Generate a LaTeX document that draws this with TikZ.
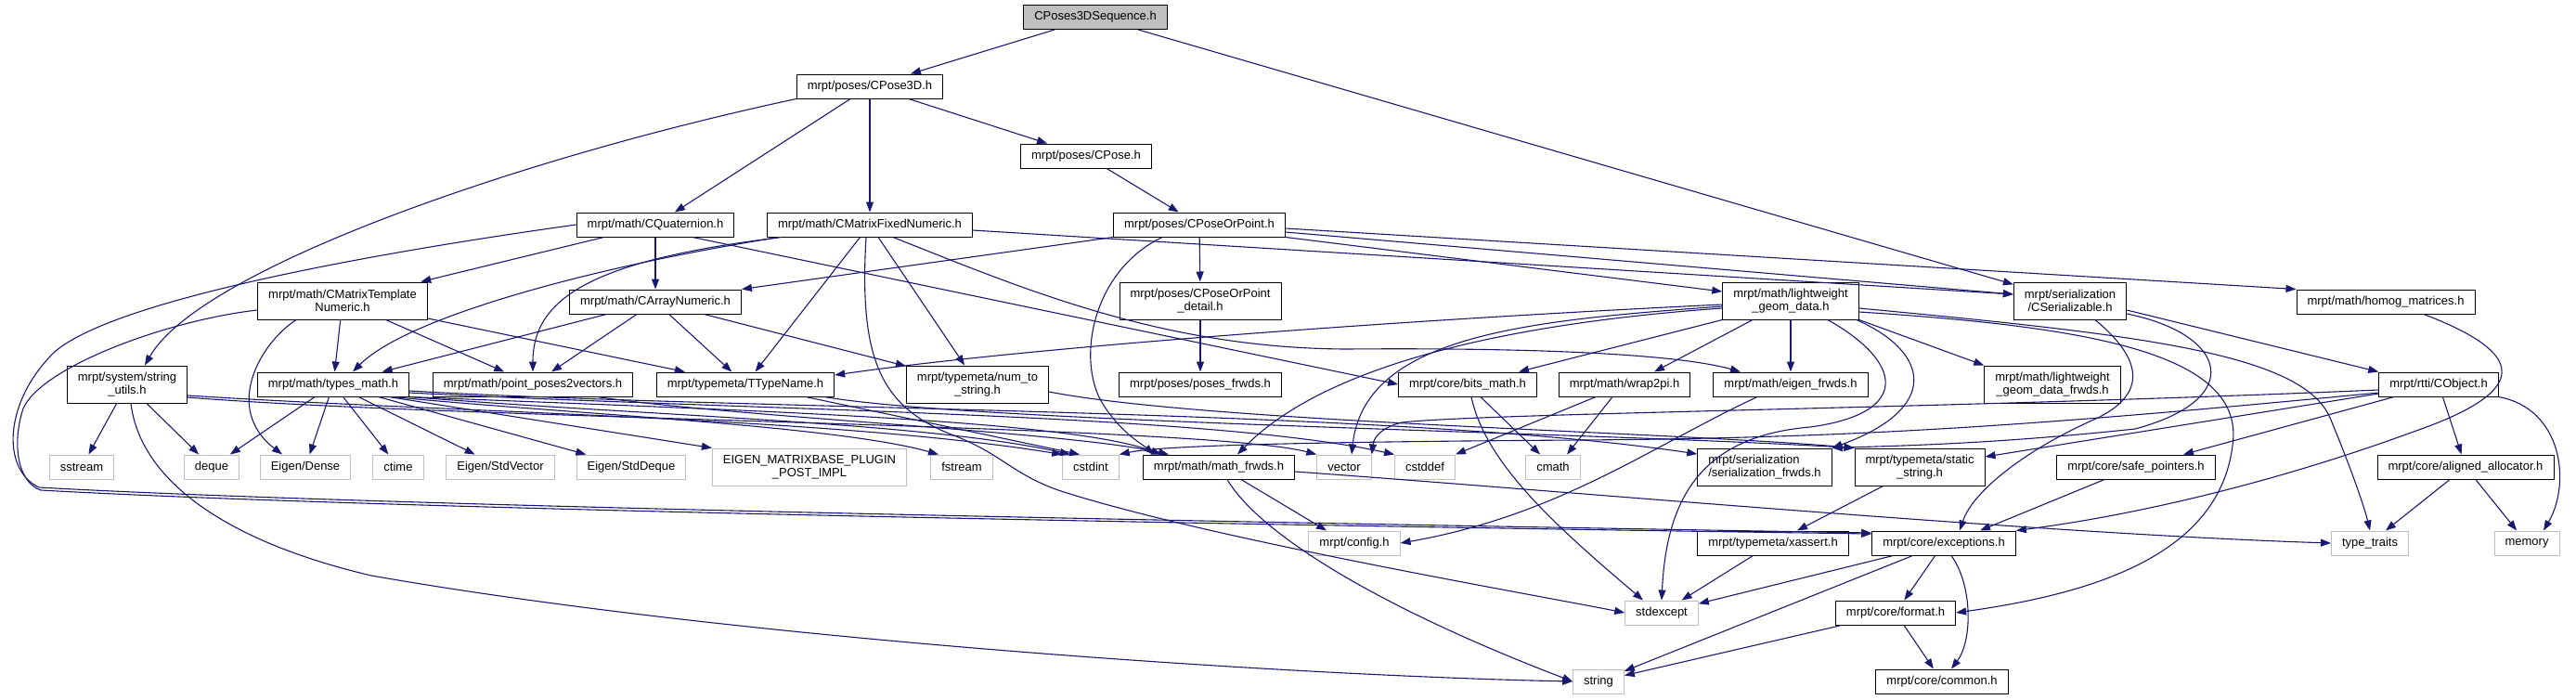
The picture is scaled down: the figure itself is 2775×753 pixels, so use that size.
\documentclass[tikz,border=0pt]{standalone}
\usepackage{fontspec}
\setmainfont{Liberation Sans}
\usetikzlibrary{arrows.meta}
\definecolor{dxblue}{HTML}{191970}
\definecolor{dxgray}{HTML}{BFBFBF}
\newcommand{\hf}{\fontsize{13}{14}\selectfont}

\begin{document}
\begin{tikzpicture}[x=1pt,y=-1pt,
    hdr/.style={draw=black,line width=1pt,fill=white,font=\hf,align=center,
      inner xsep=11.5pt,inner ysep=2pt,minimum height=26pt},
    sys/.style={hdr,draw=dxgray},
    root/.style={hdr,fill=dxgray},
    twol/.style={minimum height=40pt},
    inc/.style={draw=dxblue,line width=1.1pt,-{Triangle[length=11pt,width=8pt]}},
    every edge/.style={inc}]
    \useasboundingbox (0,0) rectangle (2775,753);
    \node[root] (P3S) at (1180,18.5) {CPoses3DSequence.h};
    \node[hdr] (CP3) at (937,93) {mrpt/poses/CPose3D.h};
    \node[hdr] (CPO) at (1170,168) {mrpt/poses/CPose.h};
    \node[hdr] (CQU) at (706,242) {mrpt/math/CQuaternion.h};
    \node[hdr] (CMF) at (937,242) {mrpt/math/CMatrixFixedNumeric.h};
    \node[hdr] (CPP) at (1292,242) {mrpt/poses/CPoseOrPoint.h};
    \node[hdr,twol] (CMT) at (369,324) {mrpt/math/CMatrixTemplate\\Numeric.h};
    \node[hdr] (CAN) at (706,325) {mrpt/math/CArrayNumeric.h};
    \node[hdr,twol] (CPD) at (1293,324) {mrpt/poses/CPoseOrPoint\\\_detail.h};
    \node[hdr,twol] (LGD) at (1929,324) {mrpt/math/lightweight\\\_geom\_data.h};
    \node[hdr,twol] (CSE) at (2230,324) {mrpt/serialization\\/CSerializable.h};
    \node[hdr] (HOM) at (2570,325) {mrpt/math/homog\_matrices.h};
    \node[hdr,twol] (STU) at (137,414) {mrpt/system/string\\\_utils.h};
    \node[hdr] (TYM) at (359,414) {mrpt/math/types\_math.h};
    \node[hdr] (PPV) at (574,414) {mrpt/math/point\_poses2vectors.h};
    \node[hdr] (TTN) at (803,414) {mrpt/typemeta/TTypeName.h};
    \node[hdr,twol] (NTS) at (1053,414) {mrpt/typemeta/num\_to\\\_string.h};
    \node[hdr] (PFR) at (1293,414) {mrpt/poses/poses\_frwds.h};
    \node[hdr] (BIT) at (1581,414) {mrpt/core/bits\_math.h};
    \node[hdr] (W2P) at (1750,414) {mrpt/math/wrap2pi.h};
    \node[hdr] (EFR) at (1929,414) {mrpt/math/eigen\_frwds.h};
    \node[hdr,twol] (LGF) at (2211,414) {mrpt/math/lightweight\\\_geom\_data\_frwds.h};
    \node[hdr] (COB) at (2627,414) {mrpt/rtti/CObject.h};
    \node[sys] (SST) at (88,503) {sstream};
    \node[sys] (DEQ) at (228,503) {deque};
    \node[sys] (EDN) at (329,503) {Eigen/Dense};
    \node[sys] (CTI) at (429,503) {ctime};
    \node[sys] (ESV) at (539,503) {Eigen/StdVector};
    \node[sys] (ESD) at (680,503) {Eigen/StdDeque};
    \node[sys,twol] (EMP) at (872,503) {EIGEN\_MATRIXBASE\_PLUGIN\\\_POST\_IMPL};
    \node[sys] (FST) at (1036,503) {fstream};
    \node[sys] (CSI) at (1175,503) {cstdint};
    \node[hdr] (MFR) at (1313,503) {mrpt/math/math\_frwds.h};
    \node[sys] (VEC) at (1448,503) {vector};
    \node[sys] (CSD) at (1535,503) {cstddef};
    \node[sys] (CMA) at (1673,503) {cmath};
    \node[hdr,twol,align=left] (SFR) at (1901,503) {mrpt/serialization\\/serialization\_frwds.h};
    \node[hdr,twol] (STS) at (2068,503) {mrpt/typemeta/static\\\_string.h};
    \node[hdr] (SAF) at (2301,503) {mrpt/core/safe\_pointers.h};
    \node[hdr] (ALA) at (2656,503) {mrpt/core/aligned\_allocator.h};
    \node[sys] (CFG) at (1459,585) {mrpt/config.h};
    \node[hdr] (XAS) at (1910,585) {mrpt/typemeta/xassert.h};
    \node[hdr] (EXC) at (2094,585) {mrpt/core/exceptions.h};
    \node[sys] (TYT) at (2553,585) {type\_traits};
    \node[sys] (MEM) at (2722,585) {memory};
    \node[sys] (STE) at (1790,660) {stdexcept};
    \node[hdr] (FMT) at (2042,660) {mrpt/core/format.h};
    \node[sys] (STR) at (1722,734) {string};
    \node[hdr] (COM) at (2092,734) {mrpt/core/common.h};
    % top rows
    \path (P3S) edge (CP3);
    \path (P3S) edge (CSE);
    \path (CP3) edge (CQU);
    \path (CP3) edge (CMF);
    \path (CP3) edge (CPO);
    \draw[inc] (CP3.south west) .. controls (560,170) and (215,290) .. ([xshift=19pt]STU.north);
    \path (CPO) edge (CPP);
    \path (CQU) edge (CAN);
    \path (CQU) edge (CMT);
    \path ([xshift=40pt]CQU.south) edge (BIT.west);
    \draw[inc] (CQU.west) .. controls (420,270) and (130,320) .. (60,378) .. controls (5,430) and (0,505) .. (42,525) .. controls (400,545) and (1300,562) .. ([yshift=11pt]EXC.west);
    \draw[inc] ([yshift=-10pt]CMT.west) .. controls (180,345) and (45,395) .. (25,440) .. controls (12,480) and (20,520) .. (44,528) .. controls (400,548) and (1300,565) .. ([yshift=10pt]EXC.west);
    \path (CMT) edge (TYM);
    \path (CMT) edge (PPV);
    \path (CMT) edge (TTN);
    \draw[inc] ([xshift=-50pt]CMT.south) .. controls (280,370) and (240,440) .. ([xshift=-25pt]EDN.north);
    \path (CAN) edge (TYM);
    \path (CAN) edge (PPV);
    \path (CAN) edge (TTN);
    \path (CAN) edge (NTS);
    \draw[inc] ([xshift=-97pt]CMF.south) .. controls (650,285) and (440,340) .. ([xshift=21pt]TYM.north);
    \draw[inc] ([xshift=-95pt]CMF.south) .. controls (640,280) and (574,320) .. (PPV.north);
    \path (CMF) edge (TTN);
    \path (CMF) edge (NTS);
    \draw[inc] ([xshift=25pt]CMF.south) .. controls (1100,310) and (1250,375) .. (1450,376) .. controls (1700,374) and (1820,385) .. ([xshift=-54pt]EFR.north);
    \path ([yshift=-6pt]CMF.east) edge ([yshift=7pt]CSE.west);
    \draw[inc] ([xshift=-4pt]CMF.south) .. controls (925,390) and (950,440) .. (1030,470) .. controls (1080,490) and (1090,510) .. (1140,528) .. controls (1300,580) and (1650,640) .. (STE.west);
    \path (CPP) edge (CPD);
    \path (CPP.south west) edge (CAN.north east);
    \draw[inc] ([xshift=-40pt]CPP.south) .. controls (1180,290) and (1160,380) .. (1185,430) .. controls (1205,465) and (1230,478) .. ([xshift=-70pt]MFR.north);
    \path ([yshift=-8pt]CPP.east) edge ([yshift=7pt]CSE.west);
    \path ([yshift=-4pt]CPP.east) edge (HOM.north west);
    \path (CPP.south east) edge ([yshift=10pt]LGD.west);
    \path (CPD) edge (PFR);
    % middle rows
    \path (STU) edge (SST);
    \path (STU) edge (DEQ);
    \draw[inc] ([xshift=4pt]STU.south) .. controls (150,510) and (230,580) .. (400,620) .. controls (800,690) and (1400,728) .. (STR.west);
    \draw[inc] ([yshift=-12pt]STU.east) .. controls (500,445) and (900,450) .. (CSI.north west);
    \draw[inc] ([yshift=-14pt]STU.east) .. controls (500,452) and (1300,458) .. (VEC.north west);
    \path (TYM) edge (DEQ);
    \path (TYM) edge (EDN);
    \path (TYM) edge (CTI);
    \path (TYM) edge (ESV);
    \path (TYM) edge (ESD);
    \path ([xshift=60pt]TYM.south) edge (EMP.north west);
    \draw[inc] ([xshift=64pt]TYM.south) .. controls (600,445) and (900,458) .. ([xshift=-25pt]FST.north);
    \draw[inc] (TYM.south east) .. controls (700,448) and (1000,455) .. ([xshift=-22pt]CSI.north);
    \draw[inc] (TYM.south east) .. controls (800,442) and (1150,452) .. ([xshift=-62pt]MFR.north);
    \draw[inc] ([yshift=-9pt]TYM.east) .. controls (800,442) and (1300,445) .. (CSD.north west);
    \draw[inc] ([yshift=-7pt]TYM.east) .. controls (800,442) and (1500,440) .. ([yshift=14pt]SFR.west);
    \draw[inc] ([xshift=69pt]PPV.south) .. controls (800,450) and (1150,465) .. ([xshift=-54pt]MFR.north);
    \path ([xshift=65pt]TTN.south) edge ([xshift=-12pt]CSI.north);
    \draw[inc] ([xshift=85pt]TTN.south) .. controls (1050,455) and (1700,465) .. (STS.north west);
    \draw[inc] ([yshift=-8pt]NTS.east) .. controls (1300,455) and (1800,465) .. (STS.north west);
    \draw[inc] ([yshift=-4pt]LGD.west) .. controls (1500,345) and (1100,375) .. ([yshift=10pt]TTN.east);
    \draw[inc] ([yshift=-6pt]LGD.west) .. controls (1650,345) and (1470,360) .. ([xshift=8pt]VEC.north);
    \draw[inc] ([yshift=-8pt]LGD.west) .. controls (1600,350) and (1420,400) .. ([xshift=20pt]MFR.north);
    \path (LGD.south west) edge ([xshift=55pt]BIT.north);
    \path ([xshift=-41pt]LGD.south) edge ([xshift=32pt]W2P.north);
    \path (LGD) edge (EFR);
    \path (LGD.south east) edge (LGF.north west);
    \draw[inc] ([xshift=71pt]LGD.south) .. controls (2080,380) and (2090,440) .. (SFR.north east);
    \draw[inc] ([xshift=40pt]LGD.south) .. controls (2050,390) and (2060,445) .. (1950,460) .. controls (1830,470) and (1795,540) .. (STE.north);
    \draw[inc] ([yshift=-8pt]LGD.east) .. controls (2300,360) and (2480,380) .. (2510,450) .. controls (2535,510) and (2548,550) .. (TYT.north);
    \draw[inc] ([yshift=-12pt]LGD.east) .. controls (2250,352) and (2420,380) .. (2405,480) .. controls (2390,600) and (2250,640) .. (FMT.east);
    \path ([yshift=-10pt]CSE.east) edge (COB.north west);
    \draw[inc] ([xshift=27pt]CSE.south) .. controls (2300,380) and (2320,420) .. (2260,450) .. controls (2180,485) and (2125,530) .. ([xshift=17pt]EXC.north);
    \draw[inc] ([yshift=-14pt]CSE.east) .. controls (2400,360) and (2420,430) .. (2300,462) .. controls (2150,478) and (2050,480) .. (SFR.north east);
    \draw[inc] ([xshift=41pt]HOM.south) .. controls (2720,380) and (2730,420) .. (2600,465) .. controls (2450,520) and (2300,555) .. (EXC.north east);
    \path (COB) edge (ALA);
    \draw[inc] (COB.south east) .. controls (2760,440) and (2770,520) .. ([xshift=18pt]MEM.north);
    \path ([xshift=-48pt]COB.south) edge ([xshift=51pt]SAF.north);
    \path ([yshift=-10pt]COB.west) edge ([yshift=11pt]STS.east);
    \draw[inc] ([yshift=-6pt]COB.west) .. controls (2100,440) and (1600,445) .. (1510,455) .. controls (1490,460) and (1480,470) .. (VEC.north east);
    \draw[inc] ([yshift=-9pt]COB.west) .. controls (2200,458) and (2000,472) .. (1700,474) .. controls (1400,476) and (1250,480) .. (CSI.north east);
    % bottom rows
    \path ([xshift=-34pt]SAF.south) edge ([xshift=39pt]EXC.north);
    \path (ALA) edge (TYT);
    \path (ALA) edge (MEM);
    \path (STS) edge (XAS);
    \path (XAS) edge (STE);
    \path (EXC) edge (STE);
    \path (EXC) edge (STR);
    \path (EXC) edge (FMT);
    \draw[inc] ([xshift=8pt]EXC.south) .. controls (2125,630) and (2125,690) .. ([xshift=10pt]COM.north);
    \path (FMT) edge (STR);
    \path (FMT) edge (COM);
    \path ([xshift=24pt]MFR.south) edge ([xshift=-30pt]CFG.north);
    \draw[inc] ([xshift=9pt]MFR.south) .. controls (1360,580) and (1500,660) .. (STR.west);
    \draw[inc] ([yshift=-5pt]MFR.east) .. controls (1700,530) and (2200,575) .. (TYT.west);
    \draw[inc] ([xshift=-36pt]EFR.south) .. controls (1780,480) and (1680,555) .. (CFG.east);
    \path (BIT) edge (CMA);
    \draw[inc] ([xshift=4pt]BIT.south) .. controls (1600,500) and (1680,570) .. ([xshift=-20pt]STE.north);
    \path ([xshift=-31pt]W2P.south) edge (CSD.north east);
    \path ([xshift=-13pt]W2P.south) edge ([xshift=15pt]CMA.north);
\end{tikzpicture}
\end{document}
